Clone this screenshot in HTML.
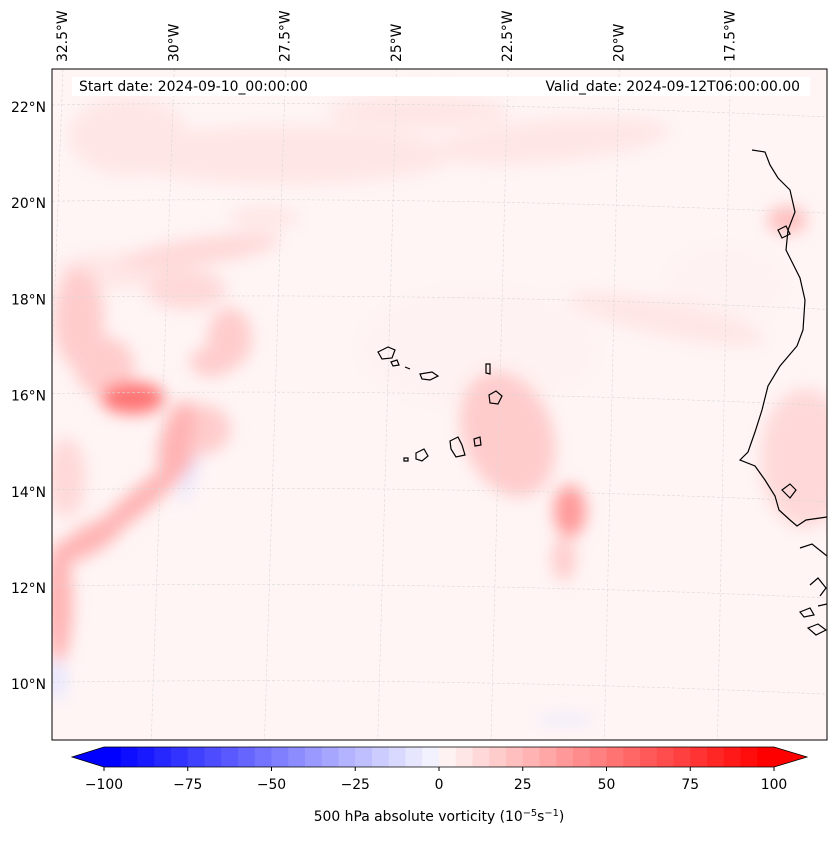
<!DOCTYPE html>
<html><head><meta charset="utf-8"><style>
body{margin:0;background:#fff;font-family:"DejaVu Sans","Liberation Sans",sans-serif;}
svg text{font-family:"DejaVu Sans","Liberation Sans",sans-serif;}
</style></head><body>
<svg id="c" width="837" height="839" viewBox="0 0 837 839" xmlns="http://www.w3.org/2000/svg">
<defs>
<clipPath id="mapclip"><rect x="52" y="69" width="775" height="671"/></clipPath>
<filter id="blur" x="-50%" y="-50%" width="200%" height="200%"><feGaussianBlur stdDeviation="8"/></filter>
</defs>
<g>
<rect x="52" y="69" width="775" height="671" fill="#fff5f5"/>
<g id="blobs" clip-path="url(#mapclip)" filter="url(#blur)"></g>
<g id="grid" clip-path="url(#mapclip)"></g>
<g clip-path="url(#mapclip)" fill="none" stroke="#000" stroke-width="1.2">
<path d="M752,150 L765,152 L770,165 L778,178 L790,190 L795,212 L788,230 L786,250 L792,262 L800,278 L805,300 L803,330 L797,346 L780,366 L768,386 L762,410 L755,432 L748,452 L740,460 L755,466 L765,480 L775,496 L779,510 L790,520 L797,526 L806,520 L827,517"/>
<path d="M782,490 L790,484 L796,490 L790,498 Z"/>
<path d="M778,230 L786,226 L790,234 L782,238 Z"/>
<path d="M800,548 L812,544 L822,552 L827,556"/>
<path d="M810,585 L818,578 L826,588 L820,596"/>
<path d="M800,612 L810,608 L814,615 L804,617 Z"/>
<path d="M818,606 L827,604"/>
<path d="M808,628 L818,624 L826,630 L816,635 Z"/>
<path d="M378,352 L388,347 L395,350 L392,358 L382,359 Z"/>
<path d="M391,362 L397,360 L399,365 L393,366 Z"/>
<path d="M405,367 L410,369"/>
<path d="M420,374 L432,372 L438,376 L430,380 L422,379 Z"/>
<path d="M486,364 L490,364 L490,374 L486,373 Z"/>
<path d="M489,395 L496,391 L502,396 L498,404 L490,403 Z"/>
<path d="M416,453 L424,449 L428,456 L422,461 L416,459 Z"/>
<path d="M450,441 L458,437 L462,445 L465,455 L456,457 L451,449 Z"/>
<path d="M474,439 L480,437 L481,445 L475,446 Z"/>
<path d="M404,458 L408,458 L408,461 L404,461 Z"/>
</g>
<rect x="52" y="69" width="775" height="671" fill="none" stroke="#000" stroke-width="1"/>
<rect x="72" y="77" width="738" height="19" fill="#fff"/>
<text x="79" y="91" font-size="13.9">Start date: 2024-09-10_00:00:00</text>
<text x="800" y="91" font-size="13.9" text-anchor="end">Valid_date: 2024-09-12T06:00:00.00</text>
<g id="latlabels"></g>
<g id="lonlabels"></g>
</g>
<g id="cbar"></g>
<text x="439" y="821" font-size="13.9" text-anchor="middle">500 hPa absolute vorticity (10<tspan font-size="9.8" dy="-5">−5</tspan><tspan dy="5">s</tspan><tspan font-size="9.8" dy="-5">−1</tspan><tspan dy="5">)</tspan></text>
</svg>
<script>
const NS="http://www.w3.org/2000/svg";
const latTicks=[22,20,18,16,14,12,10];
const lonTicks=[-32.5,-30,-27.5,-25,-22.5,-20,-17.5];
const cbarTicks=[-100,-75,-50,-25,0,25,50,75,100];
// vorticity features: lon, lat, value
const blobLon=[-27.5,-21.5,-31.0,-29.3,-32.0,-29.6,-28.6,-30.75,-29.74,-30.52,-31.65,-32.3,-22.3,-20.86,-20.97,-18.8,-15.6,-16.14,-28.5,-29.4,-32.3,-20.86,-24.5,-31.4,-30.6,-29.0,-31.2,-27.9,-23.0,-17.5,-29.2,-32.2];
const blobLat=[21.0,21.3,21.4,19.0,17.6,18.2,17.2,15.95,15.08,13.83,13.0,11.7,15.2,13.6,12.6,17.6,14.7,19.65,19.23,14.45,10.09,9.26,21.9,16.6,16.1,16.7,18.6,19.7,17.0,18.3,15.3,14.3];
const blobVal=[10,10,10,15,18,15,22,55,30,32,32,30,18,40,20,10,15,25,-10,-10,-10,-8,10,20,-5,22,12,12,5,5,20,15];
const blobR=[[170,30,0],[120,22,-5],[60,40,0],[80,14,-8],[25,50,0],[40,20,0],[22,30,0],[32,16,0],[16,40,15],[70,12,-40],[40,14,-30],[14,60,0],[45,65,-20],[16,26,0],[12,22,0],[100,18,12],[45,70,0],[20,14,0],[8,8,0],[6,35,15],[10,20,0],[30,4,0],[90,18,0],[30,30,0],[16,5,15],[22,15,0],[60,18,0],[35,12,0],[120,60,0],[60,40,0],[30,25,0],[20,40,0]];
function xOf(lon,lat){return 62+(lon+32.5)*44.5-(22-lat)*1.2;}
function yOf(lat){return 107+(22-lat)*48.1;}
function col(v){const q=Math.round(v/5)*5;const t=Math.min(1,Math.abs(q)/100);const c=Math.round(255*(1-t));return q>=0?`rgb(255,${c},${c})`:`rgb(${c},${c},255)`;}
const bg=document.getElementById('blobs');
const order=blobVal.map((v,i)=>i).sort((a,b)=>Math.abs(blobVal[a])-Math.abs(blobVal[b]));
order.forEach(i=>{
 const e=document.createElementNS(NS,'ellipse');
 const cx=xOf(blobLon[i],blobLat[i]),cy=yOf(blobLat[i]);
 e.setAttribute('cx',cx);e.setAttribute('cy',cy);
 e.setAttribute('rx',blobR[i][0]);e.setAttribute('ry',blobR[i][1]);
 e.setAttribute('transform',`rotate(${blobR[i][2]} ${cx} ${cy})`);
 e.setAttribute('fill',col(blobVal[i]));
 
 
 bg.appendChild(e);
});
const gg=document.getElementById('grid');
latTicks.forEach(la=>{
 const p=document.createElementNS(NS,'path');
 const y=yOf(la);
 p.setAttribute('d',`M52,${y-2} Q440,${y-8} 827,${y+10}`);
 p.setAttribute('stroke','#d8d8d8');p.setAttribute('stroke-width','0.6');p.setAttribute('stroke-dasharray','3,2');p.setAttribute('fill','none');
 
 
 gg.appendChild(p);
});
lonTicks.forEach(lo=>{
 const p=document.createElementNS(NS,'line');
 p.setAttribute('x1',xOf(lo,22)+1);p.setAttribute('y1',69);
 p.setAttribute('x2',xOf(lo,22)-18+(lo+25)*0.8);p.setAttribute('y2',740);
 p.setAttribute('stroke','#d8d8d8');p.setAttribute('stroke-width','0.6');p.setAttribute('stroke-dasharray','3,2');
 
 
 gg.appendChild(p);
});
const ll=document.getElementById('latlabels');
latTicks.forEach(la=>{
 const t=document.createElementNS(NS,'text');
 t.setAttribute('x',46);t.setAttribute('y',yOf(la)+5);t.setAttribute('font-size','13.9');t.setAttribute('text-anchor','end');
 t.textContent=la+'°N';
 
 
 ll.appendChild(t);
});
const lo=document.getElementById('lonlabels');
lonTicks.forEach(v=>{
 const t=document.createElementNS(NS,'text');
 const x=xOf(v,22)+5;
 t.setAttribute('x',x);t.setAttribute('y',62);t.setAttribute('font-size','13.9');
 t.setAttribute('transform',`rotate(-90 ${x} 62)`);
 t.textContent=Math.abs(v)+'°W';
 
 
 lo.appendChild(t);
});
const cb=document.getElementById('cbar');
function cx(v){return 104+(v+100)*(670/200);}
for(let v=-100;v<100;v+=5){
 const r=document.createElementNS(NS,'rect');
 r.setAttribute('x',cx(v));r.setAttribute('y',747);r.setAttribute('width',cx(v+5)-cx(v)+0.5);r.setAttribute('height',20);
 r.setAttribute('fill',col(v+2.5>0?v+5:v));
 
 
 cb.appendChild(r);
}
const l=document.createElementNS(NS,'polygon');
l.setAttribute('points','104,747 72,757 104,767');l.setAttribute('fill','rgb(0,0,255)');


cb.appendChild(l);
const r2=document.createElementNS(NS,'polygon');
r2.setAttribute('points','774,747 807,757 774,767');r2.setAttribute('fill','rgb(255,0,0)');


cb.appendChild(r2);
const o=document.createElementNS(NS,'polygon');
o.setAttribute('points','104,747 774,747 807,757 774,767 104,767 72,757');o.setAttribute('fill','none');o.setAttribute('stroke','#000');o.setAttribute('stroke-width','0.8');


cb.appendChild(o);
cbarTicks.forEach(v=>{
 const tk=document.createElementNS(NS,'line');
 tk.setAttribute('x1',cx(v));tk.setAttribute('x2',cx(v));tk.setAttribute('y1',767);tk.setAttribute('y2',771);tk.setAttribute('stroke','#000');
 
 
 cb.appendChild(tk);
 const t=document.createElementNS(NS,'text');
 t.setAttribute('x',cx(v));t.setAttribute('y',789);t.setAttribute('font-size','13.9');t.setAttribute('text-anchor','middle');
 t.textContent=v<0?'−'+Math.abs(v):String(v);
 
 
 cb.appendChild(t);
});
</script>
</body></html>
